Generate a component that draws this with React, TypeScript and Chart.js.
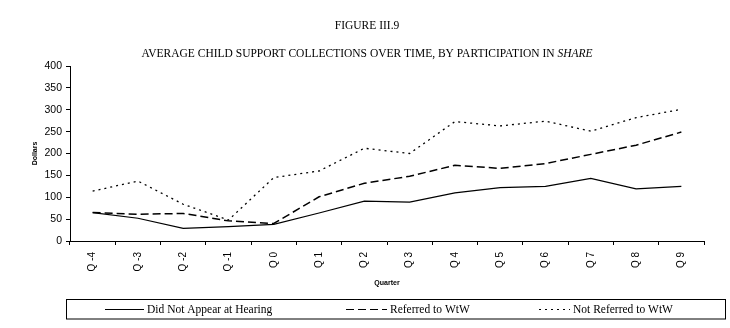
import { useEffect, useRef } from "react";
import { Chart, registerables } from "chart.js";

Chart.register(...registerables);

const categories = ["Q -4", "Q -3", "Q -2", "Q -1", "Q 0", "Q 1", "Q 2", "Q 3", "Q 4", "Q 5", "Q 6", "Q 7", "Q 8", "Q 9"];
const didNotAppear = [65, 52, 29, 33, 38, 64, 91, 89, 110, 122, 125, 143, 119, 125];
const referred = [65, 61, 63, 46, 40, 101, 132, 148, 173, 166, 177, 198, 219, 249];
const notReferred = [114, 137, 84, 48, 145, 160, 212, 200, 273, 263, 274, 251, 282, 301];
const seriesLabels = ["Did Not Appear at Hearing", "Referred to WtW", "Not Referred to WtW"];
const titleLine1 = "FIGURE III.9";
const titleLine2 = "AVERAGE CHILD SUPPORT COLLECTIONS OVER TIME, BY PARTICIPATION IN ";
const titleItalic = "SHARE";
const yTitle = "Dollars";
const xTitle = "Quarter";

const SERIF = "'Liberation Serif', 'Times New Roman', serif";
const SANS = "'Liberation Sans', Arial, sans-serif";

const titlePlugin = {
  id: "figTitle",
  afterDraw(chart: any) {
    const ctx = chart.ctx;
    ctx.save();
    ctx.fillStyle = "#000";
    ctx.textBaseline = "middle";
    ctx.font = `11.5px ${SERIF}`;
    ctx.textAlign = "center";
    ctx.fillText(titleLine1, 367, 25.5);
    ctx.textAlign = "left";
    ctx.font = `11.5px ${SERIF}`;
    const w1 = ctx.measureText(titleLine2).width;
    ctx.font = `italic 11.5px ${SERIF}`;
    const w2 = ctx.measureText(titleItalic).width;
    const start = 367 - (w1 + w2) / 2;
    ctx.font = `11.5px ${SERIF}`;
    ctx.fillText(titleLine2, start, 54);
    ctx.font = `italic 11.5px ${SERIF}`;
    ctx.fillText(titleItalic, start + w1, 54);
    ctx.restore();
  },
};

const legendPlugin = {
  id: "boxLegend",
  afterDraw(chart: any) {
    const ctx = chart.ctx;
    ctx.save();
    ctx.strokeStyle = "#000";
    ctx.lineWidth = 1;
    ctx.strokeRect(66.5, 299.5, 659, 19.5);
    const starts = [105, 346, 539];
    const widths = [39, 41, 31];
    const y = 309.5;
    chart.data.datasets.forEach((ds: any, i: number) => {
      ctx.beginPath();
      ctx.setLineDash(ds.borderDash || []);
      ctx.lineWidth = 1;
      ctx.moveTo(starts[i], y);
      ctx.lineTo(starts[i] + widths[i], y);
      ctx.stroke();
      ctx.setLineDash([]);
      ctx.fillStyle = "#000";
      ctx.font = `11.5px ${SERIF}`;
      ctx.textAlign = "left";
      ctx.textBaseline = "middle";
      ctx.fillText(ds.label, starts[i] + widths[i] + 3, y);
    });
    ctx.restore();
  },
};

export default function App() {
  const ref = useRef<HTMLCanvasElement | null>(null);
  useEffect(() => {
    if (!ref.current) return;
    const chart = new Chart(ref.current, {
      type: "line",
      data: {
        labels: categories,
        datasets: [
          {
            label: seriesLabels[0],
            data: didNotAppear,
            borderColor: "#000",
            borderWidth: 1.2,
            pointRadius: 0,
            tension: 0,
            fill: false,
          },
          {
            label: seriesLabels[1],
            data: referred,
            borderColor: "#000",
            borderWidth: 1.5,
            borderDash: [8, 4],
            pointRadius: 0,
            tension: 0,
            fill: false,
          },
          {
            label: seriesLabels[2],
            data: notReferred,
            borderColor: "#000",
            borderWidth: 1.3,
            borderDash: [2, 4],
            pointRadius: 0,
            tension: 0,
            fill: false,
          },
        ],
      },
      options: {
        responsive: false,
        animation: false,
        events: [],
        layout: { padding: { left: 0, right: 26, top: 66, bottom: 37 } },
        plugins: {
          legend: { display: false },
          title: { display: false },
          tooltip: { enabled: false },
        },
        scales: {
          x: {
            offset: true,
            grid: {
              offset: true,
              drawOnChartArea: false,
              drawTicks: true,
              tickLength: 4,
              color: "#000",
            },
            border: { color: "#000", width: 1 },
            ticks: {
              color: "#000",
              font: { family: SANS, size: 10 },
              maxRotation: 90,
              minRotation: 90,
              padding: 7,
              autoSkip: false,
            },
            title: {
              display: true,
              text: xTitle,
              color: "#000",
              font: { family: SANS, size: 7, weight: "bold" },
              padding: 4,
            },
            afterFit(scale: any) {
              scale.height = 50;
            },
          },
          y: {
            min: 0,
            max: 400,
            ticks: {
              stepSize: 50,
              color: "#000",
              font: { family: SANS, size: 10.5 },
              padding: 4,
            },
            grid: {
              drawOnChartArea: false,
              drawTicks: true,
              tickLength: 4,
              color: "#000",
            },
            border: { color: "#000", width: 1 },
            title: {
              display: true,
              text: yTitle,
              color: "#000",
              font: { family: SANS, size: 7, weight: "bold" },
              padding: 31,
            },
            afterFit(scale: any) {
              scale.width = 70;
            },
          },
        },
      },
      plugins: [titlePlugin, legendPlugin],
    });
    return () => chart.destroy();
  }, []);
  return (
    <div style={{ position: "absolute", left: 0, top: 0, width: 730, height: 328, background: "#fff" }}>
      <canvas ref={ref} width={730} height={328} style={{ display: "block" }} />
    </div>
  );
}
